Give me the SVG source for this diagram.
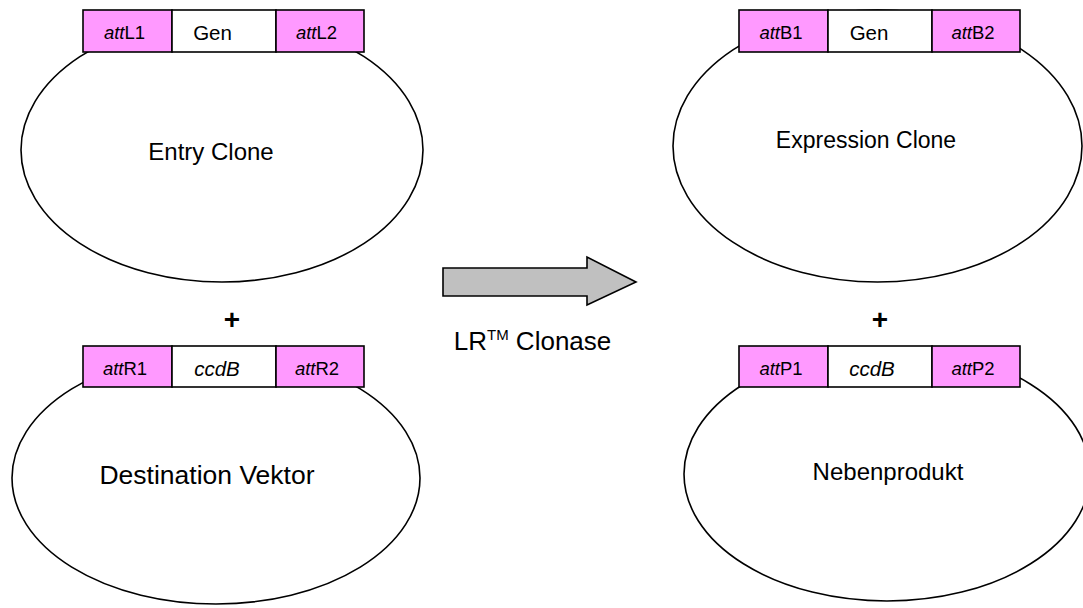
<svg xmlns="http://www.w3.org/2000/svg" width="1083" height="608" viewBox="0 0 1083 608">
<style>
.plasmid{fill:#fff;stroke:#000;stroke-width:1.6}
.att{fill:#ff99ff;stroke:#000;stroke-width:1.6}
.mid{fill:#fff;stroke:#000;stroke-width:1.6}
text{font-family:"Liberation Sans",Arial,sans-serif;fill:#000;text-anchor:middle}
.lab{font-size:18.5px}
.gen{font-size:20.5px}
.name{font-size:24px}
.plus{font-size:28px;font-weight:bold}
</style>
<rect width="1083" height="608" fill="#fff"/>
<g id="entry-clone">
<ellipse class="plasmid" cx="222" cy="150" rx="201" ry="132"/>
<rect class="att" x="83" y="10" width="89" height="42"/>
<rect class="mid" x="172" y="10" width="104" height="42"/>
<rect class="att" x="276" y="10" width="88" height="42"/>
<text class="lab" x="124.5" y="39"><tspan font-style="italic">att</tspan>L1</text>
<text class="gen" x="212.5" y="40">Gen</text>
<text class="lab" x="316.5" y="39"><tspan font-style="italic">att</tspan>L2</text>
<text class="name" x="211" y="160">Entry Clone</text>
</g>
<g id="plus-left"><text class="plus" x="232" y="329">+</text></g>
<g id="destination-vektor">
<ellipse class="plasmid" cx="216" cy="478" rx="204" ry="126"/>
<rect class="att" x="83" y="346" width="89" height="41"/>
<rect class="mid" x="172" y="346" width="104" height="41"/>
<rect class="att" x="276" y="346" width="88" height="41"/>
<text class="lab" x="125" y="375"><tspan font-style="italic">att</tspan>R1</text>
<text class="gen" x="217" y="376" font-style="italic">ccdB</text>
<text class="lab" x="317" y="375"><tspan font-style="italic">att</tspan>R2</text>
<text class="name" x="207" y="484" style="font-size:26.5px">Destination Vektor</text>
</g>
<g id="connectors">
<g id="arrow">
<path d="M443,268 H587 V257 L636,282 L587,305 V296 H443 Z" fill="#c0c0c0" stroke="#000" stroke-width="1.6"/>
<text font-size="26px" x="532.5" y="350">LR<tspan font-size="15px" dy="-10">TM</tspan><tspan dy="10"> Clonase</tspan></text>
</g>
</g>
<g id="expression-clone">
<ellipse class="plasmid" cx="877.5" cy="146" rx="204.5" ry="136"/>
<rect class="att" x="739" y="10" width="89" height="42"/>
<rect class="mid" x="828" y="10" width="104" height="42"/>
<rect class="att" x="932" y="10" width="88" height="42"/>
<text class="lab" x="781" y="39"><tspan font-style="italic">att</tspan>B1</text>
<text class="gen" x="869" y="40">Gen</text>
<text class="lab" x="973" y="39"><tspan font-style="italic">att</tspan>B2</text>
<text class="name" x="866" y="148" style="font-size:23px">Expression Clone</text>
</g>
<g id="plus-right"><text class="plus" x="880" y="329">+</text></g>
<g id="nebenprodukt">
<ellipse class="plasmid" cx="887" cy="474" rx="203" ry="127"/>
<rect class="att" x="739" y="346" width="89" height="41"/>
<rect class="mid" x="828" y="346" width="104" height="41"/>
<rect class="att" x="932" y="346" width="88" height="41"/>
<text class="lab" x="781" y="375"><tspan font-style="italic">att</tspan>P1</text>
<text class="gen" x="872" y="376" font-style="italic">ccdB</text>
<text class="lab" x="973" y="375"><tspan font-style="italic">att</tspan>P2</text>
<text class="name" x="888" y="480">Nebenprodukt</text>
</g>
</svg>
